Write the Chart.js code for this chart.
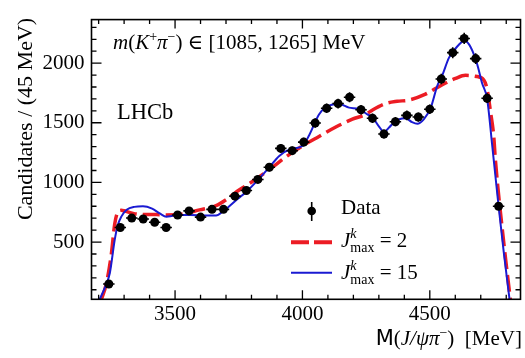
<!DOCTYPE html>
<html>
<head>
<meta charset="utf-8">
<script src="https://cdn.jsdelivr.net/npm/chart.js@4"></script>
<style>
  html, body { margin: 0; padding: 0; background: #fff; }
  canvas { display: block; }
</style>
</head>
<body>
<canvas id="c" width="525" height="358"></canvas>
<script>
// bin centres (45 MeV bins) and candidates per bin
const massBins = [3240, 3285, 3330, 3375, 3420, 3465, 3510, 3555, 3600, 3645, 3690, 3735,
  3780, 3825, 3870, 3915, 3960, 4005, 4050, 4095, 4140, 4185, 4230, 4275, 4320, 4365,
  4410, 4455, 4500, 4545, 4590, 4635, 4680, 4725, 4770];
const counts = [148, 622, 701, 693, 666, 622, 727, 761, 709, 774, 774, 885,
  932, 1025, 1127, 1285, 1266, 1338, 1498, 1622, 1661, 1714, 1609, 1538, 1406, 1509,
  1562, 1548, 1614, 1867, 2088, 2207, 2038, 1706, 800];
const countErr = [12, 25, 26, 26, 26, 25, 27, 28, 27, 28, 28, 30,
  31, 32, 34, 36, 36, 37, 39, 40, 41, 41, 40, 39, 37, 39,
  40, 39, 40, 43, 46, 47, 45, 41, 28];

// J^k_max = 15 fit curve
const fit15Mass = [3204, 3225, 3244, 3263, 3275, 3289, 3310, 3340, 3374, 3410, 3440, 3466,
  3490, 3518, 3560, 3620, 3661, 3690, 3713, 3745, 3779, 3824, 3870, 3909, 3955, 4000,
  4027, 4065, 4092, 4144, 4183, 4222, 4255, 4274, 4300, 4320, 4340, 4359, 4380, 4405,
  4430, 4451, 4477, 4503, 4529, 4549, 4575, 4601, 4637, 4660, 4686, 4705, 4725, 4744,
  4770, 4790, 4813];
const fit15Vals = [20, 120, 240, 516, 640, 713, 770, 795, 800, 780, 740, 713,
  720, 727, 727, 722, 722, 760, 800, 860, 920, 1017, 1127, 1222, 1280, 1305,
  1398, 1570, 1630, 1657, 1627, 1615, 1570, 1548, 1470, 1424, 1460, 1503, 1530, 1538,
  1505, 1491, 1530, 1622, 1807, 1898, 2044, 2123, 2188, 2136, 1991, 1833, 1701, 1330,
  800, 420, 20];

// J^k_max = 2 fit curve
const fit2Mass = [3211, 3230, 3250, 3263, 3276, 3289, 3300, 3335, 3361, 3426, 3466, 3530,
  3596, 3661, 3700, 3753, 3805, 3870, 3935, 4000, 4065, 4131, 4196, 4248, 4274, 4327,
  4372, 4418, 4483, 4549, 4601, 4640, 4679, 4712, 4725, 4738, 4751, 4757, 4790, 4816];
const fit2Vals = [20, 150, 400, 650, 753, 766, 762, 740, 732, 730, 727, 735,
  770, 806, 855, 938, 1010, 1108, 1214, 1306, 1385, 1464, 1530, 1570, 1605, 1661,
  1680, 1690, 1740, 1819, 1872, 1898, 1890, 1859, 1780, 1596, 1385, 1200, 500, 20];

const xTickLabels = [3500, 4000, 4500];
const yTickLabels = [500, 1000, 1500, 2000];

const RED = '#ec1c24';
const BLUE = '#1a1ad2';
const SERIF = '"Liberation Serif", "DejaVu Serif", serif';
const SANS = '"DejaVu Sans", sans-serif';

const pts = (xs, ys) => xs.map((x, i) => ({ x, y: ys[i] }));

// draw text made of several font runs; parts: [text, font, dy, noAdvance]
function drawRich(ctx, x, y, parts, align) {
  let total = 0, pend = 0;
  parts.forEach(p => {
    ctx.font = p[1];
    const w = ctx.measureText(p[0]).width;
    if (p[3]) { pend = Math.max(pend, w); } else { total += Math.max(w, pend); pend = 0; }
  });
  let cx = align === 'right' ? x - total : x;
  ctx.textBaseline = 'alphabetic';
  ctx.textAlign = 'left';
  pend = 0;
  parts.forEach(p => {
    ctx.font = p[1];
    ctx.fillText(p[0], cx, y + (p[2] || 0));
    const w = ctx.measureText(p[0]).width;
    if (p[3]) { pend = Math.max(pend, w); } else { cx += Math.max(w, pend); pend = 0; }
  });
}

const framePlugin = {
  id: 'frame',
  afterDraw(chart) {
    const { ctx, chartArea: a, scales } = chart;
    const xs = scales.x, ys = scales.y;
    ctx.save();
    ctx.strokeStyle = '#000';
    ctx.lineWidth = 1.3;
    ctx.beginPath();
    for (let v = Math.ceil(xs.min / 100) * 100; v <= xs.max; v += 100) {
      const px = xs.getPixelForValue(v);
      const len = v % 500 === 0 ? 9 : 4.5;
      ctx.moveTo(px, a.bottom); ctx.lineTo(px, a.bottom - len);
      ctx.moveTo(px, a.top); ctx.lineTo(px, a.top + len);
    }
    for (let v = Math.ceil(ys.min / 100) * 100; v <= ys.max; v += 100) {
      const py = ys.getPixelForValue(v);
      const len = v % 500 === 0 ? 10 : 5;
      ctx.moveTo(a.left, py); ctx.lineTo(a.left + len, py);
      ctx.moveTo(a.right, py); ctx.lineTo(a.right - len, py);
    }
    ctx.stroke();
    ctx.lineWidth = 1.6;
    ctx.strokeRect(a.left, a.top, a.right - a.left, a.bottom - a.top);
    ctx.restore();
  }
};

const errorBarPlugin = {
  id: 'errbars',
  afterDatasetsDraw(chart) {
    const { ctx, scales } = chart;
    ctx.save();
    ctx.strokeStyle = '#000';
    ctx.lineWidth = 1.6;
    ctx.beginPath();
    massBins.forEach((m, i) => {
      const px = scales.x.getPixelForValue(m);
      const py = scales.y.getPixelForValue(counts[i]);
      const e1 = scales.y.getPixelForValue(counts[i] + countErr[i]);
      const e2 = scales.y.getPixelForValue(counts[i] - countErr[i]);
      const h1 = scales.x.getPixelForValue(m - 22.5);
      const h2 = scales.x.getPixelForValue(m + 22.5);
      ctx.moveTo(px, e1); ctx.lineTo(px, e2);
      ctx.moveTo(h1, py); ctx.lineTo(h2, py);
    });
    ctx.stroke();
    ctx.restore();
  }
};

const textPlugin = {
  id: 'texts',
  afterDraw(chart) {
    const { ctx } = chart;
    ctx.save();
    ctx.fillStyle = '#000';

    // y axis title
    ctx.save();
    ctx.translate(26, 119);
    ctx.rotate(-Math.PI / 2);
    ctx.font = '22px ' + SERIF;
    ctx.textAlign = 'center';
    ctx.textBaseline = 'middle';
    ctx.fillText('Candidates / (45 MeV)', 0, 0);
    ctx.restore();

    // x axis title
    drawRich(ctx, 522, 345, [
      ['M', '21px ' + SANS, 0],
      ['(', '21px ' + SERIF, 0],
      ['J/ψπ', 'italic 21px ' + SERIF, 0],
      ['−', '14px ' + SERIF, -8],
      [')  [MeV]', '21px ' + SERIF, 0]
    ], 'right');

    // selection window
    drawRich(ctx, 113, 49, [
      ['m', 'italic 21px ' + SERIF, 0],
      ['(', '21px ' + SERIF, 0],
      ['K', 'italic 21px ' + SERIF, 0],
      ['+', '14px ' + SERIF, -8],
      ['π', 'italic 21px ' + SERIF, 0],
      ['−', '14px ' + SERIF, -8],
      [') ∈ [1085, 1265] MeV', '21px ' + SERIF, 0]
    ]);

    ctx.font = '22.5px ' + SERIF;
    ctx.textAlign = 'left';
    ctx.textBaseline = 'alphabetic';
    ctx.fillText('LHCb', 117, 119);

    // legend
    ctx.strokeStyle = '#000';
    ctx.lineWidth = 1.6;
    ctx.beginPath();
    ctx.moveTo(311.7, 202); ctx.lineTo(311.7, 221);
    ctx.stroke();
    ctx.beginPath();
    ctx.arc(311.7, 211, 4.3, 0, Math.PI * 2);
    ctx.fill();
    ctx.font = '21px ' + SERIF;
    ctx.fillText('Data', 341, 214);

    ctx.lineWidth = 4;
    ctx.strokeStyle = RED;
    ctx.setLineDash([18, 5]);
    ctx.beginPath();
    ctx.moveTo(291, 242.3); ctx.lineTo(332, 242.3);
    ctx.stroke();
    ctx.setLineDash([]);
    ctx.lineWidth = 2;
    ctx.strokeStyle = BLUE;
    ctx.beginPath();
    ctx.moveTo(291, 272.7); ctx.lineTo(332, 272.7);
    ctx.stroke();

    [[247, ' = 2'], [279, ' = 15']].forEach(([by, t]) => {
      drawRich(ctx, 341, by, [
        ['J', 'italic 21px ' + SERIF, 0],
        ['k', 'italic 14px ' + SERIF, -9, true],
        ['max', '14px ' + SERIF, 5],
        [t, '21px ' + SERIF, 0]
      ]);
    });
    ctx.restore();
  }
};

const ctx = document.getElementById('c').getContext('2d');
const chart = new Chart(ctx, {
  type: 'scatter',
  data: {
    datasets: [
      {
        label: 'Data',
        data: pts(massBins, counts),
        pointRadius: 4.5,
        pointBackgroundColor: '#000',
        pointBorderWidth: 0,
        order: 0
      },
      {
        label: 'J15',
        data: pts(fit15Mass, fit15Vals),
        showLine: true,
        borderColor: BLUE,
        borderWidth: 2,
        pointRadius: 0,
        cubicInterpolationMode: 'monotone',
        order: 1
      },
      {
        label: 'J2',
        data: pts(fit2Mass, fit2Vals),
        showLine: true,
        borderColor: RED,
        borderWidth: 3.5,
        borderDash: [17, 6],
        pointRadius: 0,
        cubicInterpolationMode: 'monotone',
        order: 2
      }
    ]
  },
  options: {
    responsive: false,
    animation: false,
    layout: { padding: { left: 0, right: 3, top: 4, bottom: 0 } },
    plugins: { legend: { display: false }, tooltip: { enabled: false } },
    scales: {
      x: {
        type: 'linear',
        min: 3172,
        max: 4856,
        grid: { display: false, drawTicks: false },
        border: { display: false },
        afterBuildTicks: s => { s.ticks = xTickLabels.map(v => ({ value: v })); },
        afterFit: s => { s.height = 58.7; },
        ticks: {
          color: '#000',
          font: { family: SERIF, size: 21 },
          padding: 3,
          maxRotation: 0,
          callback: v => String(v)
        }
      },
      y: {
        type: 'linear',
        min: 20,
        max: 2365,
        grid: { display: false, drawTicks: false },
        border: { display: false },
        afterBuildTicks: s => { s.ticks = yTickLabels.map(v => ({ value: v })); },
        afterFit: s => { s.width = 91.5; },
        ticks: {
          color: '#000',
          font: { family: SERIF, size: 21 },
          padding: 7,
          callback: v => String(v)
        }
      }
    }
  },
  plugins: [framePlugin, errorBarPlugin, textPlugin]
});
</script>
</body>
</html>
